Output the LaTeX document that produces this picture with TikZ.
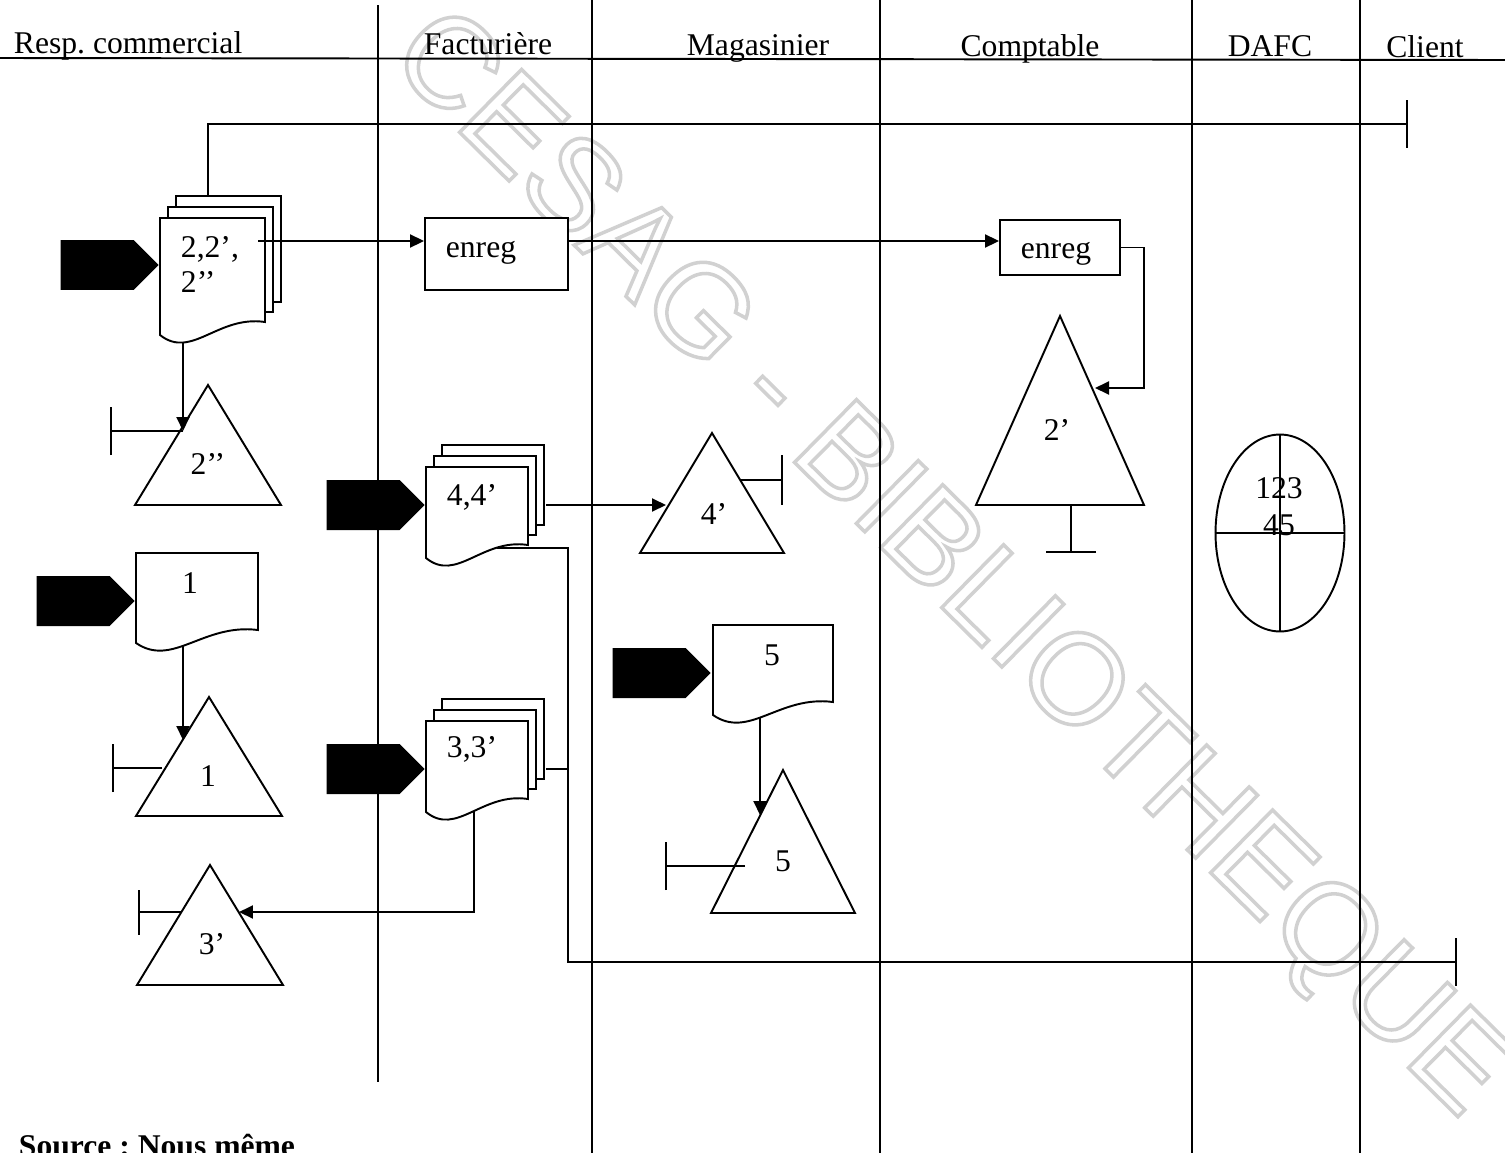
\documentclass[tikz,border=0pt]{standalone}
\usepackage{fontspec}
\setmainfont{Liberation Serif}
\newfontfamily\wmfont{Liberation Sans}
\frenchspacing
\usetikzlibrary{arrows.meta,shapes.geometric,shapes.symbols}

\tikzset{
  lbl/.style={font=\fontsize{18}{21}\selectfont, inner sep=0pt},
  flowarr/.style={-{Triangle[length=0.28cm,width=0.26cm]}},
  archbar/.style={-{Bar[width=#1]}},
  archbar/.default=0.96cm,
  inflow/.style={signal, signal to=east, fill=black, draw=none, minimum width=1.96cm, minimum height=1cm, inner sep=0pt},
  enregbox/.style={draw, rectangle, fill=white, inner sep=0pt},
  wmark/.style={font=\wmfont\fontsize{73}{76}\selectfont, rotate=-44.6, inner sep=0pt, text=black!10},
}

% hollow letters for the watermark
\newcommand{\hollow}[1]{\special{pdf:literal direct 1 Tr 2 w 0.82 G}#1\special{pdf:literal direct 0 Tr}}
% document sheet: left, top, width, height of left edge
\newcommand{\docsheet}[4]{%
  \draw[fill=white] (#1,#2) -- ({#1+#3},#2) -- ({#1+#3},{#2+#4-13})
    .. controls ({#1+0.55*#3},{#2+#4-20}) and ({#1+0.3*#3},{#2+#4+25}) .. (#1,{#2+#4}) -- cycle;
}
% three sheets
\newcommand{\docstack}[4]{%
  \draw[fill=white] ({#1+16},{#2-22}) rectangle ({#1+16+#3},{#2+#4-33});
  \draw[fill=white] ({#1+8},{#2-11}) rectangle ({#1+8+#3},{#2+#4-23});
  \docsheet{#1}{#2}{#3}{#4}
}
% archive triangle: apex x, apex y, half base, height
\newcommand{\archtri}[4]{%
  \draw[fill=white] (#1,#2) -- ({#1-#3},{#2+#4}) -- ({#1+#3},{#2+#4}) -- cycle;
}

\begin{document}
\begin{tikzpicture}[x=0.02cm, y=-0.02cm, line width=1.1pt]
  \useasboundingbox (0,0) rectangle (1505,1153);

  % watermark
  \node[wmark] (cesag) at (947,567) {\hollow{CESAG - BIBLIOTHEQUE}};

  % lanes
  \draw (0,58) -- (1505,60);% header line
  \draw (378,5) -- (378,1082);
  \foreach \lx in {592,880,1192,1360} {
    \draw (\lx,0) -- (\lx,1153);
  }

  % lane titles
  \node[lbl, anchor=base west] (hresp) at (13,53) {Resp. commercial};
  \node[lbl, anchor=base] (hfact) at (488,54) {Facturière};
  \node[lbl, anchor=base] (hmag) at (758,55) {Magasinier};
  \node[lbl, anchor=base] (hcomp) at (1030,56) {Comptable};
  \node[lbl, anchor=base] (hdafc) at (1270,56) {DAFC};
  \node[lbl, anchor=base] (hclient) at (1425,57) {Client};

  % documents
  \docstack{160}{218}{105}{117}% 2,2',2''
  \docsheet{136}{553}{122}{90}% 1
  \docstack{426}{467}{102}{91}% 4,4'
  \docstack{426}{721}{102}{91}% 3,3'
  \docsheet{713}{625}{120}{90}% 5

  % archives
  \archtri{208}{385}{73}{120}
  \archtri{209}{697}{73}{119}
  \archtri{210}{865}{73}{120}
  \archtri{712}{433}{72}{120}
  \archtri{783}{770}{72}{143}
  \archtri{1060}{316}{84}{189}

  % inputs
  \node[inflow, anchor=east] (in2) at (160,265) {};
  \node[inflow, anchor=east] (in1) at (136,601) {};
  \node[inflow, anchor=east] (in4) at (426,505) {};
  \node[inflow, anchor=east] (in3) at (426,769) {};
  \node[inflow, anchor=east] (in5) at (712,673) {};

  % records
  \node[enregbox, minimum width=2.86cm, minimum height=1.44cm] (enreg1) at (496.5,254) {};
  \node[enregbox, minimum width=2.4cm, minimum height=1.1cm] (enreg2) at (1060,247.5) {};
  \node[lbl, anchor=base] (e1txt) at (481,257) {enreg};
  \node[lbl, anchor=base] (e2txt) at (1056,258) {enreg};

  % DAFC file
  \node[draw, ellipse, minimum width=2.58cm, minimum height=3.94cm, inner sep=0pt] (dafc) at (1280,533) {};
  \draw (dafc.north) -- (dafc.south);
  \draw (dafc.west) -- (dafc.east);

  % labels
  \node[lbl, align=left, anchor=north west, font=\fontsize{18}{20}\selectfont] (l2) at (180,235) {2,2’,\\2’’};
  \node[lbl, anchor=base] (l1) at (190,593) {1};
  \node[lbl, anchor=base west] (l4) at (446,505) {4,4’};
  \node[lbl, anchor=base west] (l3) at (446,757) {3,3’};
  \node[lbl, anchor=base] (l5) at (772,665) {5};
  \node[lbl, anchor=base] (a2b) at (208,474) {2’’};
  \node[lbl, anchor=base] (a1) at (208,786) {1};
  \node[lbl, anchor=base] (a3) at (212,954) {3’};
  \node[lbl, anchor=base] (a4) at (714,524) {4’};
  \node[lbl, anchor=base] (a5) at (783,871) {5};
  \node[lbl, anchor=base] (a2) at (1057,440) {2’};
  \node[lbl, align=center] (ldafc) at (1279,507) {123\\45};

  % connector ends
  \coordinate (s2top) at (208,196);
  \coordinate (clientA) at (1408,124);
  \coordinate (s2out) at (258,241);
  \coordinate (t2p) at (1095,388);
  \coordinate (t2stem) at (1071,505);
  \coordinate (t2foot) at (1071,553);
  \coordinate (s2down) at (183,342);
  \coordinate (t2bp) at (183,431);
  \coordinate (t2bbar) at (110,431);
  \coordinate (d1down) at (183,646);
  \coordinate (t1p) at (183,740);
  \coordinate (t1in) at (162,768);
  \coordinate (t1bar) at (112,768);
  \coordinate (s4right) at (546,505);
  \coordinate (t4p) at (666,505);
  \coordinate (t4in) at (740,480);
  \coordinate (t4bar) at (783,480);
  \coordinate (s4out) at (497,548);
  \coordinate (s4turn) at (568,962);
  \coordinate (clientB) at (1457,962);
  \coordinate (s3right) at (546,769);
  \coordinate (s3down) at (474,811);
  \coordinate (t3p) at (239,912);
  \coordinate (t3in) at (181,912);
  \coordinate (t3bar) at (138,912);
  \coordinate (d5down) at (760,718);
  \coordinate (t5p) at (760,815);
  \coordinate (t5in) at (745,866);
  \coordinate (t5bar) at (665,866);

  % flows
  \draw[archbar] (s2top) |- (clientA);
  \draw[flowarr] (s2out) -- (s2out -| enreg1.west);
  \draw[flowarr] (s2out -| enreg1.east) -- (s2out -| enreg2.west);
  \draw[flowarr] (enreg2.east) -- ++(23,0) |- (t2p);
  \draw[archbar=1cm] (t2stem) -- (t2foot);
  \draw[flowarr] (s2down) -- (t2bp);
  \draw[archbar] (t2bp) -- (t2bbar);
  \draw[flowarr] (d1down) -- (t1p);
  \draw[archbar] (t1in) -- (t1bar);
  \draw[flowarr] (s4right) -- (t4p);
  \draw[archbar=1cm] (t4in) -- (t4bar);
  \draw[archbar] (s4out) -| (s4turn) -- (clientB);
  \draw (s3right) -- (s3right -| s4turn);
  \draw[flowarr] (s3down) |- (t3p);
  \draw[archbar=0.9cm] (t3in) -- (t3bar);
  \draw[flowarr] (d5down) -- (t5p);
  \draw[archbar] (t5in) -- (t5bar);

  % source
  \node[font=\fontsize{18}{21}\selectfont\bfseries, inner sep=0pt, anchor=base west] (src) at (18,1156) {Source : Nous même};
\end{tikzpicture}
\end{document}
